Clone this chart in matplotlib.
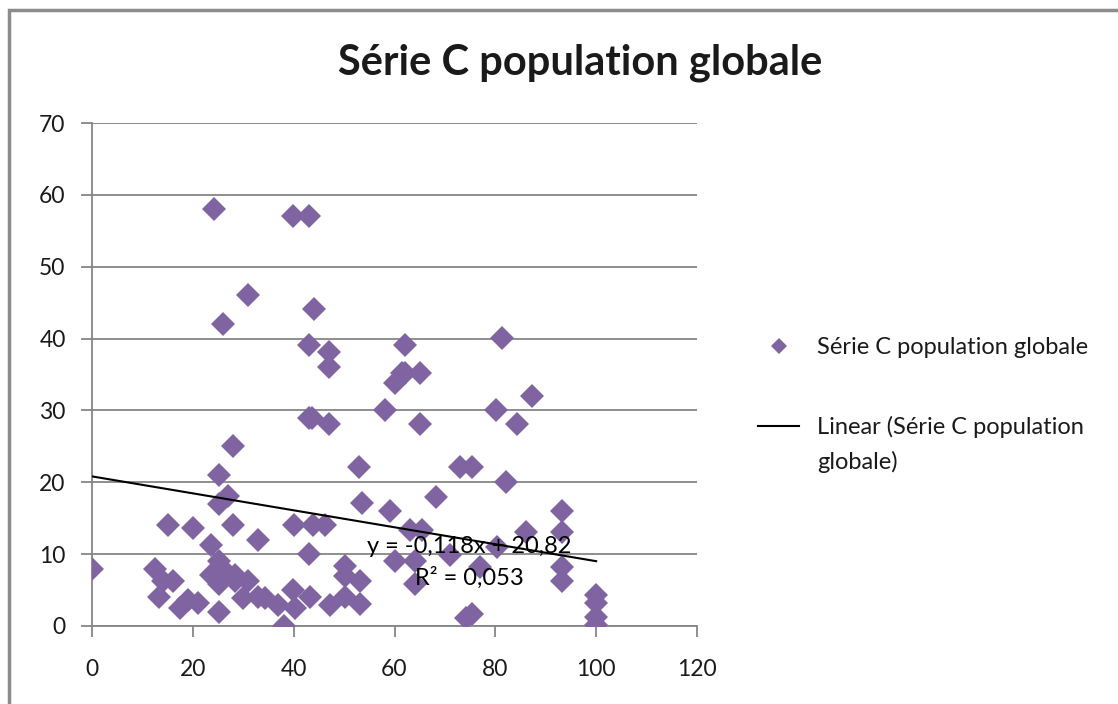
import matplotlib.pyplot as plt
from matplotlib.patches import Rectangle

# values
x_vals = [0, 12.5, 14.1, 16.1, 13.2, 17.5, 19.1, 21.1, 15, 20,
          23.7, 25.1, 23.7, 25.1, 25.1, 27.0, 28.4, 28.4, 31.0, 30.0,
          33.0, 34.3, 36.9, 38.1, 39.9, 40.3, 43.2, 43.1, 40.1, 43.9,
          46.2, 33.0, 47.2, 50.2, 50.2, 50.2, 53.2, 53.2, 53.5, 53.0,
          59.1, 60.1, 58.1, 60.1, 43.1, 43.6, 47.1, 28.0, 25.1, 27.0,
          25.1, 28.0, 24.1, 39.9, 43.1, 31.0, 26.0, 44.1, 43.1, 47.1,
          47.1, 62.1, 61.4, 62.1, 65.1, 81.3, 65.1, 80.1, 84.2, 87.2,
          73.0, 75.3, 82.1, 68.2, 93.2, 93.2, 86.1, 63.1, 65.4, 71.0,
          80.3, 64.1, 64.1, 77.0, 93.2, 93.2, 74.2, 75.3, 100, 100,
          100, 100]
y_vals = [8.0, 8.0, 6.2, 6.2, 4.1, 2.5, 3.6, 3.2, 14.1, 13.6,
          11.3, 9.0, 7.1, 5.9, 2.0, 7.3, 7.1, 6.2, 6.2, 3.9,
          4.1, 3.9, 2.9, 0.0, 5.0, 2.5, 4.1, 10.0, 14.1, 14.1,
          14.1, 12.0, 2.9, 8.3, 6.9, 4.1, 6.2, 3.1, 17.1, 22.1,
          16.0, 9.1, 30.1, 33.8, 29.0, 29.0, 28.1, 25.0, 21.0, 18.1,
          17.0, 14.1, 58.1, 57.1, 57.1, 46.1, 42.0, 44.1, 39.1, 38.1,
          36.0, 39.1, 35.2, 35.2, 35.2, 40.1, 28.1, 30.1, 28.1, 32.0,
          22.1, 22.1, 20.1, 18.0, 16.0, 13.1, 13.1, 13.4, 13.4, 9.9,
          11.0, 9.1, 5.9, 8.2, 8.2, 6.2, 1.1, 1.7, 4.3, 3.2,
          1.3, 0.1]

# trend line as given by the chart label
slope = -0.118
intercept = 20.82
r_squared = 0.053

series_name = 'Série C population globale'
x_ticks = [0, 20, 40, 60, 80, 100, 120]
y_ticks = [0, 10, 20, 30, 40, 50, 60, 70]

purple = '#8064A2'
axis_gray = '#868686'
text_col = '#1a1a1a'

plt.rcParams['font.family'] = ['Lato', 'DejaVu Sans']

W, H = 1118, 704
fig = plt.figure(figsize=(W / 100, H / 100), dpi=100)
ax = fig.add_axes([92 / W, 1 - 626 / H, 605 / W, 503 / H])

# outer chart frame (cut off on the right and bottom)
fig.patches.append(Rectangle((9 / W, -0.2), 1.2, 1.2 - 10 / H,
                             transform=fig.transFigure, fill=False,
                             edgecolor='#8c8c8c', linewidth=2.5))

ax.plot(x_vals, y_vals, linestyle='None', marker='D', markersize=12,
        color=purple, markeredgewidth=0, label=series_name, zorder=3)

trend_x = [min(x_vals), max(x_vals)]
trend_y = [slope * v + intercept for v in trend_x]
ax.plot(trend_x, trend_y, color='black', linewidth=1.5,
        label='Linear (Série C population', zorder=4)

eq = 'y = {:.3f}x + {:.2f}'.format(slope, intercept).replace('.', ',')
r2 = 'R² = {:.3f}'.format(r_squared).replace('.', ',')
ax.text(74.8, 8.8, eq + '\n' + r2, ha='center', va='center',
        fontsize=17, linespacing=1.55, color='black', zorder=5)

ax.set_xlim(0, 120)
ax.set_ylim(0, 70)
ax.set_xticks(x_ticks)
ax.set_yticks(y_ticks)
ax.tick_params(axis='both', direction='out', length=8, width=1.3,
               color=axis_gray, labelsize=16.5, labelcolor=text_col)
ax.tick_params(axis='x', pad=16)
ax.tick_params(axis='y', pad=11)
ax.yaxis.grid(True, color=axis_gray, linewidth=1.3)
ax.set_axisbelow(True)
for side in ['top', 'right']:
    ax.spines[side].set_visible(False)
for side in ['left', 'bottom']:
    ax.spines[side].set_color(axis_gray)
    ax.spines[side].set_linewidth(1.3)

fig.text(580 / W, 1 - 63 / H, series_name, ha='center', va='center',
         fontsize=30, fontweight='bold', color=text_col)

leg = ax.legend(loc='upper left', bbox_to_anchor=(758 / W, 1 - 337 / H),
                bbox_transform=fig.transFigure, frameon=False, fontsize=17,
                borderpad=0, borderaxespad=0, handlelength=1.75,
                handletextpad=0.75, labelspacing=2.45, markerscale=0.65)
for t in leg.get_texts():
    t.set_color(text_col)

# second line of the trend legend label, under its first line
fig.canvas.draw()
bb = leg.get_texts()[1].get_window_extent()
fig.text(bb.x0 / W, (bb.y0 + bb.y1) / 2 / H - 35 / H, 'globale)',
         ha='left', va='center', fontsize=17, color=text_col)

fig.savefig('out.png', dpi=100)
